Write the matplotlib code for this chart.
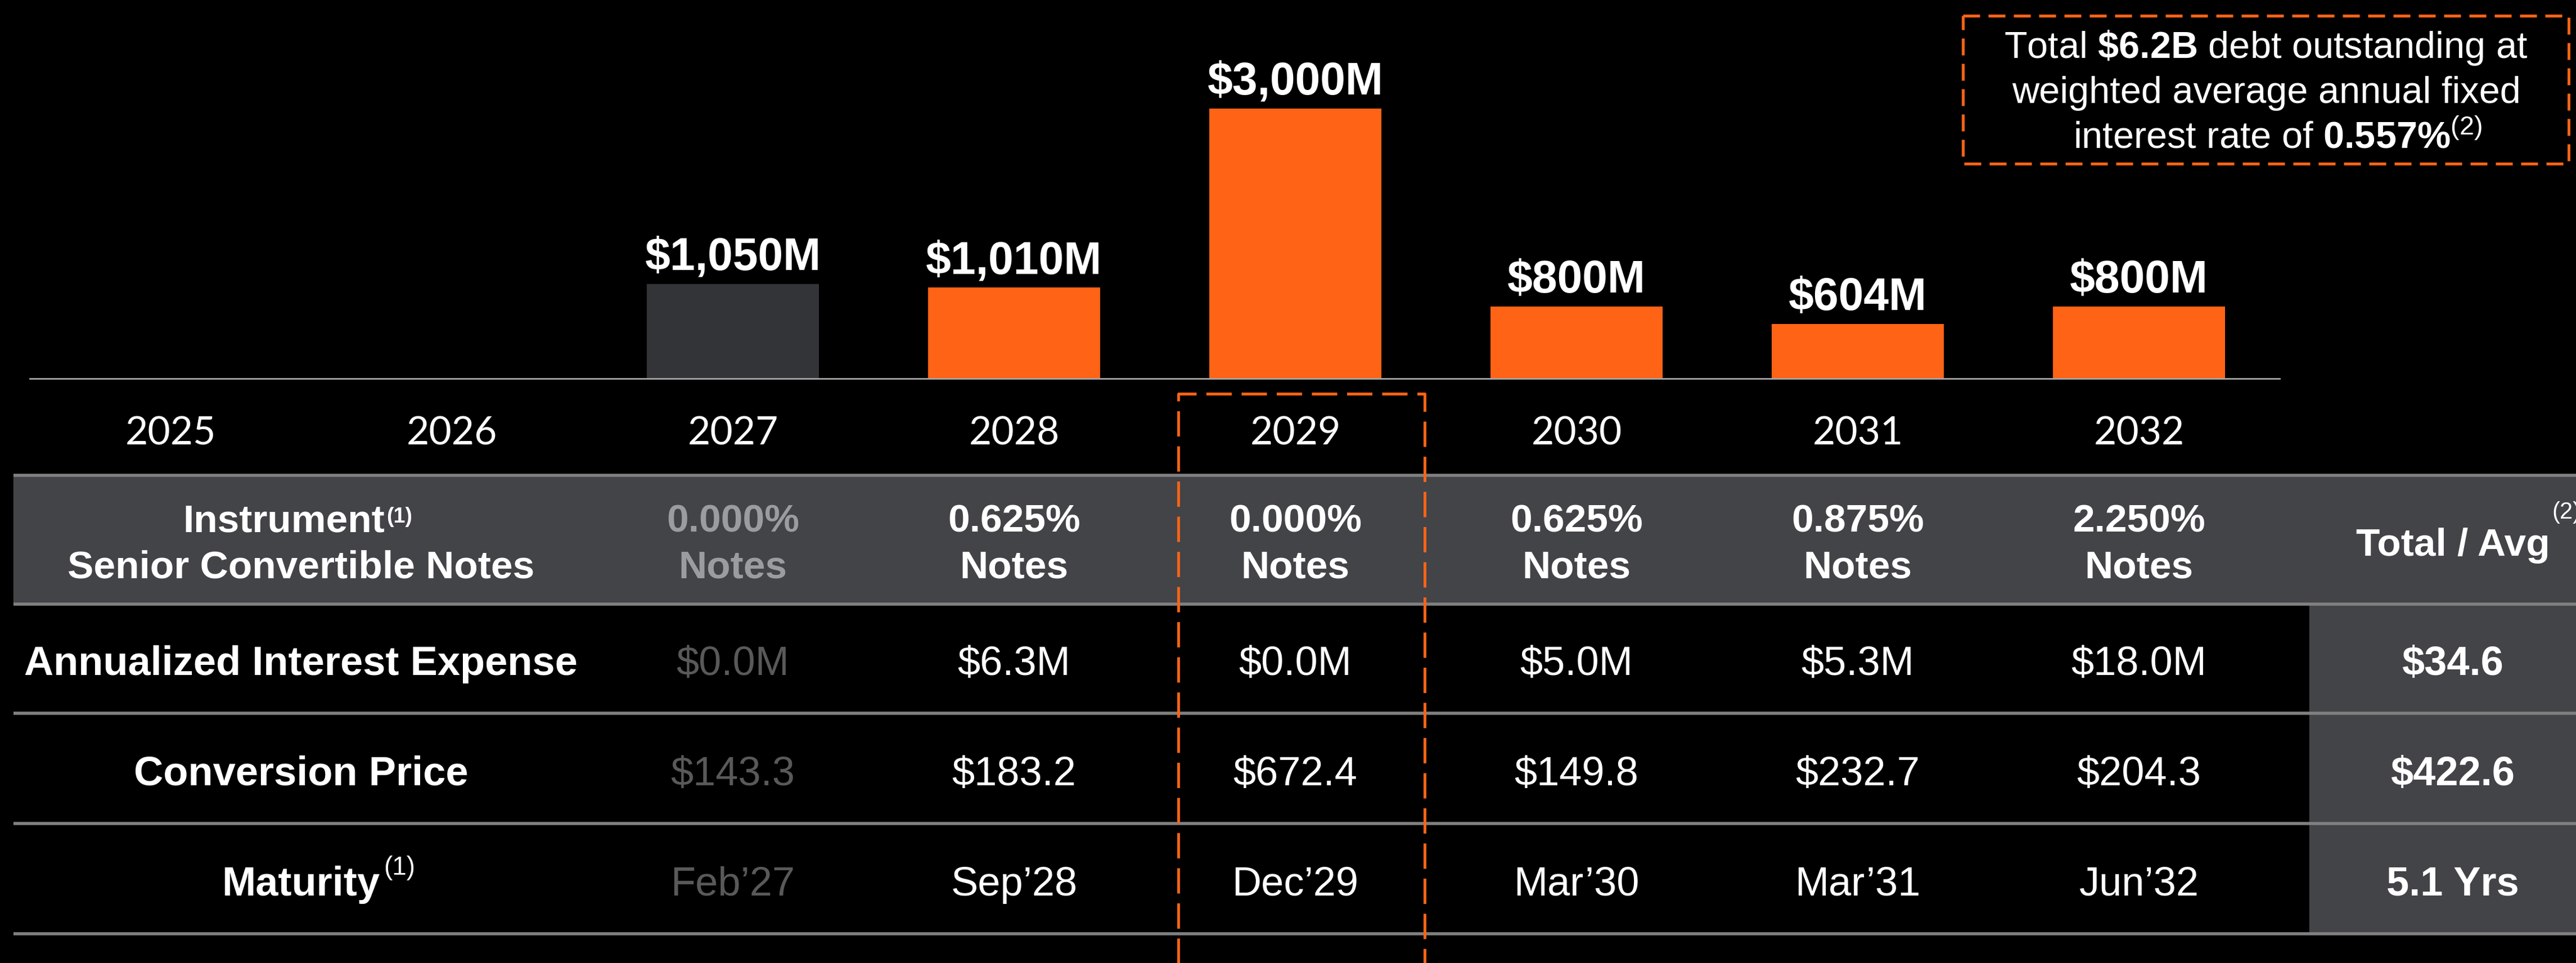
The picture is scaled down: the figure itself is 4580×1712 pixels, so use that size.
import matplotlib
matplotlib.use("Agg")
import matplotlib.pyplot as plt
from matplotlib.patches import Rectangle
from matplotlib import transforms
import numpy as np

plt.rcParams['font.family'] = ['Liberation Sans', 'DejaVu Sans']
plt.rcParams['mathtext.fontset'] = 'custom'
plt.rcParams['mathtext.rm'] = 'Liberation Sans'
plt.rcParams['mathtext.bf'] = 'Liberation Sans:bold'
plt.rcParams['mathtext.it'] = 'Liberation Sans:italic'
plt.rcParams['mathtext.default'] = 'regular'

orange = '#FF6315'
dark_bar = '#333438'
band = '#434448'
rule = '#808080'
dim_head = '#9B9CA0'
dim_cell = '#595959'

# data
years = ['2025', '2026', '2027', '2028', '2029', '2030', '2031', '2032']
amounts = [0, 0, 1050, 1010, 3000, 800, 604, 800]
bar_labels = ['', '', '$1,050M', '$1,010M', '$3,000M', '$800M', '$604M', '$800M']
retired = ['2027']
highlight = '2029'

note_years = ['2027', '2028', '2029', '2030', '2031', '2032']
coupons = ['0.000%', '0.625%', '0.000%', '0.625%', '0.875%', '2.250%']
interest = ['$0.0M', '$6.3M', '$0.0M', '$5.0M', '$5.3M', '$18.0M']
conv_price = ['$143.3', '$183.2', '$672.4', '$149.8', '$232.7', '$204.3']
maturity = ['Feb\u201927', 'Sep\u201928', 'Dec\u201929', 'Mar\u201930', 'Mar\u201931', 'Jun\u201932']
totals = ['$34.6', '$422.6', '5.1 Yrs']
row_names = ['Annualized Interest Expense', 'Conversion Price', 'Maturity']

W, H = 4580, 1712
fig = plt.figure(figsize=(W / 100, H / 100), dpi=100, facecolor='black')

# bar chart
ax = fig.add_axes([53 / W, 1 - 673 / H, 4000 / W, 673 / H])
ax.set_facecolor('none')
x = np.arange(len(years))
colors = [dark_bar if y in retired else orange for y in years]
ax.bar(x, amounts, width=0.612, color=colors)
ax.set_xlim(-0.5, len(years) - 0.5)
ax.set_ylim(0, 4206)
for s in ['top', 'left', 'right']:
    ax.spines[s].set_visible(False)
ax.spines['bottom'].set_color('#A6A6A6')
ax.spines['bottom'].set_linewidth(2)
ax.set_xticks([])
ax.set_yticks([])
for xi, v, lab in zip(x, amounts, bar_labels):
    if lab:
        ax.annotate(lab, (xi, v), xytext=(0, 18), textcoords='offset points',
                    ha='center', va='baseline', color='white', fontsize=58,
                    fontweight='bold', parse_math=False)

# overlay in pixel coords for the table
tab = fig.add_axes([0, 0, 1, 1])
tab.set_xlim(0, W)
tab.set_ylim(H, 0)
tab.axis('off')
bt = transforms.blended_transform_factory(ax.transData, tab.transData)

for xi, yr in zip(x, years):
    tab.text(xi, 790, yr, transform=bt, ha='center', va='baseline',
             fontsize=50, family='Lato', color='white')

# table bands and rules
tab.add_patch(Rectangle((24, 845), W - 24, 229, color=band, zorder=1))
tab.add_patch(Rectangle((4106, 1074), W - 4106, 586, color=band, zorder=1))
tab.hlines([845, 1074, 1268, 1464, 1660], 24, W, colors=rule, linewidth=4, zorder=2)

# header
inst = tab.text(505, 945, 'Instrument', ha='center', va='baseline',
                fontsize=50, fontweight='bold', color='white')
tab.annotate('(1)', xy=(1, 1), xycoords=inst, xytext=(2, -4), textcoords='offset points',
             ha='left', va='top', fontsize=27, fontweight='bold', color='white')
tab.text(535, 1028, 'Senior Convertible Notes', ha='center', va='baseline',
         fontsize=50, fontweight='bold', color='white')
tab.text(4361, 988, 'Total / Avg', ha='center', va='baseline',
         fontsize=50, fontweight='bold', color='white')
tab.text(4537, 922, '(2)', ha='left', va='baseline', fontsize=30, color='white')

row_base = [1200, 1396, 1592]
for r, name in enumerate(row_names):
    t = tab.text(535, row_base[r], name, ha='center', va='baseline',
                 fontsize=52, fontweight='bold', color='white')
    if name == 'Maturity':
        tab.annotate('(1)', xy=(1, 1), xycoords=t, xytext=(5, 13), textcoords='offset points',
                     ha='left', va='top', fontsize=33, color='white')
    tab.text(4361, row_base[r], totals[r], ha='center', va='baseline',
             fontsize=52, fontweight='bold', color='white', parse_math=False)

for j, yr in enumerate(note_years):
    xi = years.index(yr)
    dim = yr in retired
    hc = dim_head if dim else 'white'
    tab.text(xi, 945, coupons[j], transform=bt, ha='center', va='baseline',
             fontsize=50, fontweight='bold', color=hc, parse_math=False)
    tab.text(xi, 1028, 'Notes', transform=bt, ha='center', va='baseline',
             fontsize=50, fontweight='bold', color=hc)
    cc = dim_cell if dim else 'white'
    for r, vals in enumerate([interest, conv_price, maturity]):
        tab.text(xi, row_base[r], vals[j], transform=bt, ha='center', va='baseline',
                 fontsize=52, color=cc, parse_math=False)

# dashed highlight around 2029 column
hx = years.index(highlight)
tab.plot([hx - 0.416, hx - 0.416, hx + 0.46, hx + 0.46], [1760, 700, 700, 1760],
         transform=bt, color=orange, lw=3.6, dashes=(9, 3.5), zorder=3)

# callout box
tab.add_patch(Rectangle((3490, 28), 1077, 263, fill=False, edgecolor=orange,
                        lw=3.6, linestyle=(0, (6, 3)), zorder=3))
tab.text(4029, 103, r'Total $\mathbf{\$6.2B}$ debt outstanding at', ha='center',
         va='baseline', fontsize=48, color='white')
tab.text(4029, 183, 'weighted average annual fixed', ha='center',
         va='baseline', fontsize=48, color='white')
tab.text(4050, 263, r'interest rate of $\mathbf{0.557\%}^{\mathrm{(2)}}$', ha='center',
         va='baseline', fontsize=48, color='white')

fig.savefig('out.png', dpi=100, facecolor='black')
